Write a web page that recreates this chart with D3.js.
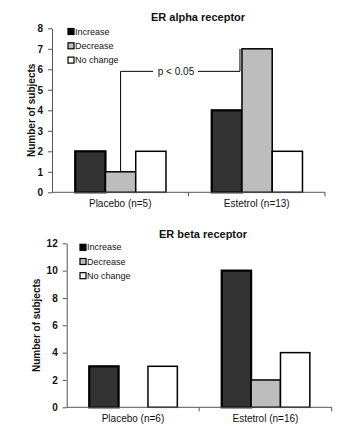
<!DOCTYPE html>
<html>
<head>
<meta charset="utf-8">
<script src="https://cdn.jsdelivr.net/npm/d3@7"></script>
<style>
  body { margin: 0; background: #fff; }
  text { font-family: "Liberation Sans", Arial, sans-serif; fill: #111; }
</style>
</head>
<body>
<div id="chart"></div>
<script>
// data
var series = ["Increase", "Decrease", "No change"];
var seriesFill = ["#333333", "#bdbdbd", "#ffffff"];

var alphaGroups = ["Placebo (n=5)", "Estetrol (n=13)"];
var alphaIncrease = [2, 4];
var alphaDecrease = [1, 7];
var alphaNoChange = [2, 2];
var alphaTicks = [0, 1, 2, 3, 4, 5, 6, 7, 8];

var betaGroups = ["Placebo (n=6)", "Estetrol (n=16)"];
var betaIncrease = [3, 10];
var betaDecrease = [0, 2];
var betaNoChange = [3, 4];
var betaTicks = [0, 2, 4, 6, 8, 10, 12];

var width = 352, height = 435;

var svg = d3.select("#chart").append("svg")
    .attr("width", width)
    .attr("height", height);

function drawPanel(opt) {
    var g = svg.append("g");

    var x0 = d3.scaleBand().domain(opt.groups).range([opt.left, opt.right]).padding(0);
    var bw = x0.bandwidth();
    var x1 = d3.scaleBand().domain(series).range([bw * 0.17, bw * 0.835]).padding(0);
    var y = d3.scaleLinear().domain([0, opt.max]).range([opt.bottom, opt.top]);

    // table built from the arrays
    var rows = opt.groups.map(function(grp, i) {
        return series.map(function(s, j) {
            return { group: grp, key: s, idx: j, value: opt.values[j][i] };
        });
    });

    // y axis
    var yAxis = d3.axisLeft(y).tickValues(opt.ticks).tickSize(4).tickSizeOuter(0).tickPadding(5);
    var ya = g.append("g").attr("transform", "translate(" + opt.left + ",0)").call(yAxis);
    ya.select(".domain").attr("stroke", "#555");
    ya.selectAll(".tick line").attr("stroke", "#555");
    ya.selectAll("text").style("font-size", "10px").style("font-family", "Liberation Sans, Arial, sans-serif")
        .style("font-weight", "bold").attr("fill", "#222");

    // bars
    var grp = g.selectAll(".grp").data(rows).enter().append("g")
        .attr("transform", function(d, i) { return "translate(" + x0(opt.groups[i]) + ",0)"; });
    grp.selectAll("rect").data(function(d) { return d.filter(function(v) { return v.value > 0; }); })
        .enter().append("rect")
        .attr("x", function(d) { return x1(d.key); })
        .attr("width", x1.bandwidth())
        .attr("y", function(d) { return y(d.value); })
        .attr("height", function(d) { return y(0) - y(d.value); })
        .attr("fill", function(d) { return seriesFill[d.idx]; })
        .attr("stroke", "#000")
        .attr("stroke-width", function(d) { return d.idx === 0 ? 2.2 : 1.5; });

    // x axis with ticks at group boundaries
    var bounds = opt.groups.map(function(d) { return x0(d); }).concat([opt.right]);
    g.append("line")
        .attr("x1", opt.left).attr("x2", opt.right)
        .attr("y1", y(0)).attr("y2", y(0))
        .attr("stroke", "#555").attr("stroke-width", 1);
    g.selectAll(".xt").data(bounds.slice(1)).enter().append("line")
        .attr("x1", function(d) { return d; }).attr("x2", function(d) { return d; })
        .attr("y1", y(0)).attr("y2", y(0) + 4)
        .attr("stroke", "#555");
    g.selectAll(".xl").data(opt.groups).enter().append("text")
        .attr("x", function(d) { return x0(d) + bw / 2; })
        .attr("y", y(0) + 15)
        .attr("text-anchor", "middle")
        .style("font-size", "10px")
        .text(function(d) { return d; });

    // title
    g.append("text")
        .attr("x", opt.titleX).attr("y", opt.titleY)
        .attr("text-anchor", "middle")
        .style("font-size", "11px").style("font-weight", "bold")
        .text(opt.title);

    // y label
    g.append("text")
        .attr("transform", "translate(" + opt.ylabX + "," + ((opt.top + opt.bottom) / 2) + ") rotate(-90)")
        .attr("text-anchor", "middle")
        .attr("dy", "0.35em")
        .style("font-size", "10px").style("font-weight", "bold")
        .text("Number of subjects");

    // legend
    var lg = g.selectAll(".lg").data(series).enter().append("g")
        .attr("transform", function(d, i) { return "translate(" + opt.legX + "," + (opt.legY + i * opt.legStep) + ")"; });
    lg.append("rect")
        .attr("x", 0).attr("y", -3).attr("width", 6).attr("height", 6)
        .attr("fill", function(d, i) { return i === 0 ? "#000" : seriesFill[i]; })
        .attr("stroke", "#000").attr("stroke-width", 1.2);
    lg.append("text")
        .attr("x", 7).attr("y", 0).attr("dy", "0.35em")
        .style("font-size", "9px")
        .text(function(d) { return d; });

    return { x0: x0, x1: x1, y: y, bw: bw };
}

var a = drawPanel({
    groups: alphaGroups, values: [alphaIncrease, alphaDecrease, alphaNoChange],
    ticks: alphaTicks, max: 8,
    left: 52, right: 325, top: 28.3, bottom: 192.3,
    title: "ER alpha receptor", titleX: 198, titleY: 21,
    ylabX: 31, legX: 68, legY: 31.5, legStep: 14.3
});

drawPanel({
    groups: betaGroups, values: [betaIncrease, betaDecrease, betaNoChange],
    ticks: betaTicks, max: 12,
    left: 66.7, right: 331.7, top: 243.3, bottom: 407.3,
    title: "ER beta receptor", titleX: 203, titleY: 238,
    ylabX: 36.7, legX: 80, legY: 247.3, legStep: 14.2
});

// significance bracket between decrease bars in the alpha panel
var pLevel = 5.9;
var xl = a.x0(alphaGroups[0]) + a.x1("Decrease") + a.x1.bandwidth() / 2;
var xr = a.x0(alphaGroups[1]) + a.x1("Decrease") - 2;
var yb = a.y(pLevel);
var br = svg.append("g").attr("stroke", "#000").attr("stroke-width", 1).attr("fill", "none");
br.append("path").attr("d", "M" + xl + "," + a.y(alphaDecrease[0]) + "V" + yb + "H" + 153);
br.append("path").attr("d", "M" + 198 + "," + yb + "H" + xr + "V" + a.y(alphaDecrease[1]));
svg.append("text")
    .attr("x", 176).attr("y", yb).attr("dy", "0.35em")
    .attr("text-anchor", "middle")
    .style("font-size", "10px")
    .text("p < 0.05");
</script>
</body>
</html>
